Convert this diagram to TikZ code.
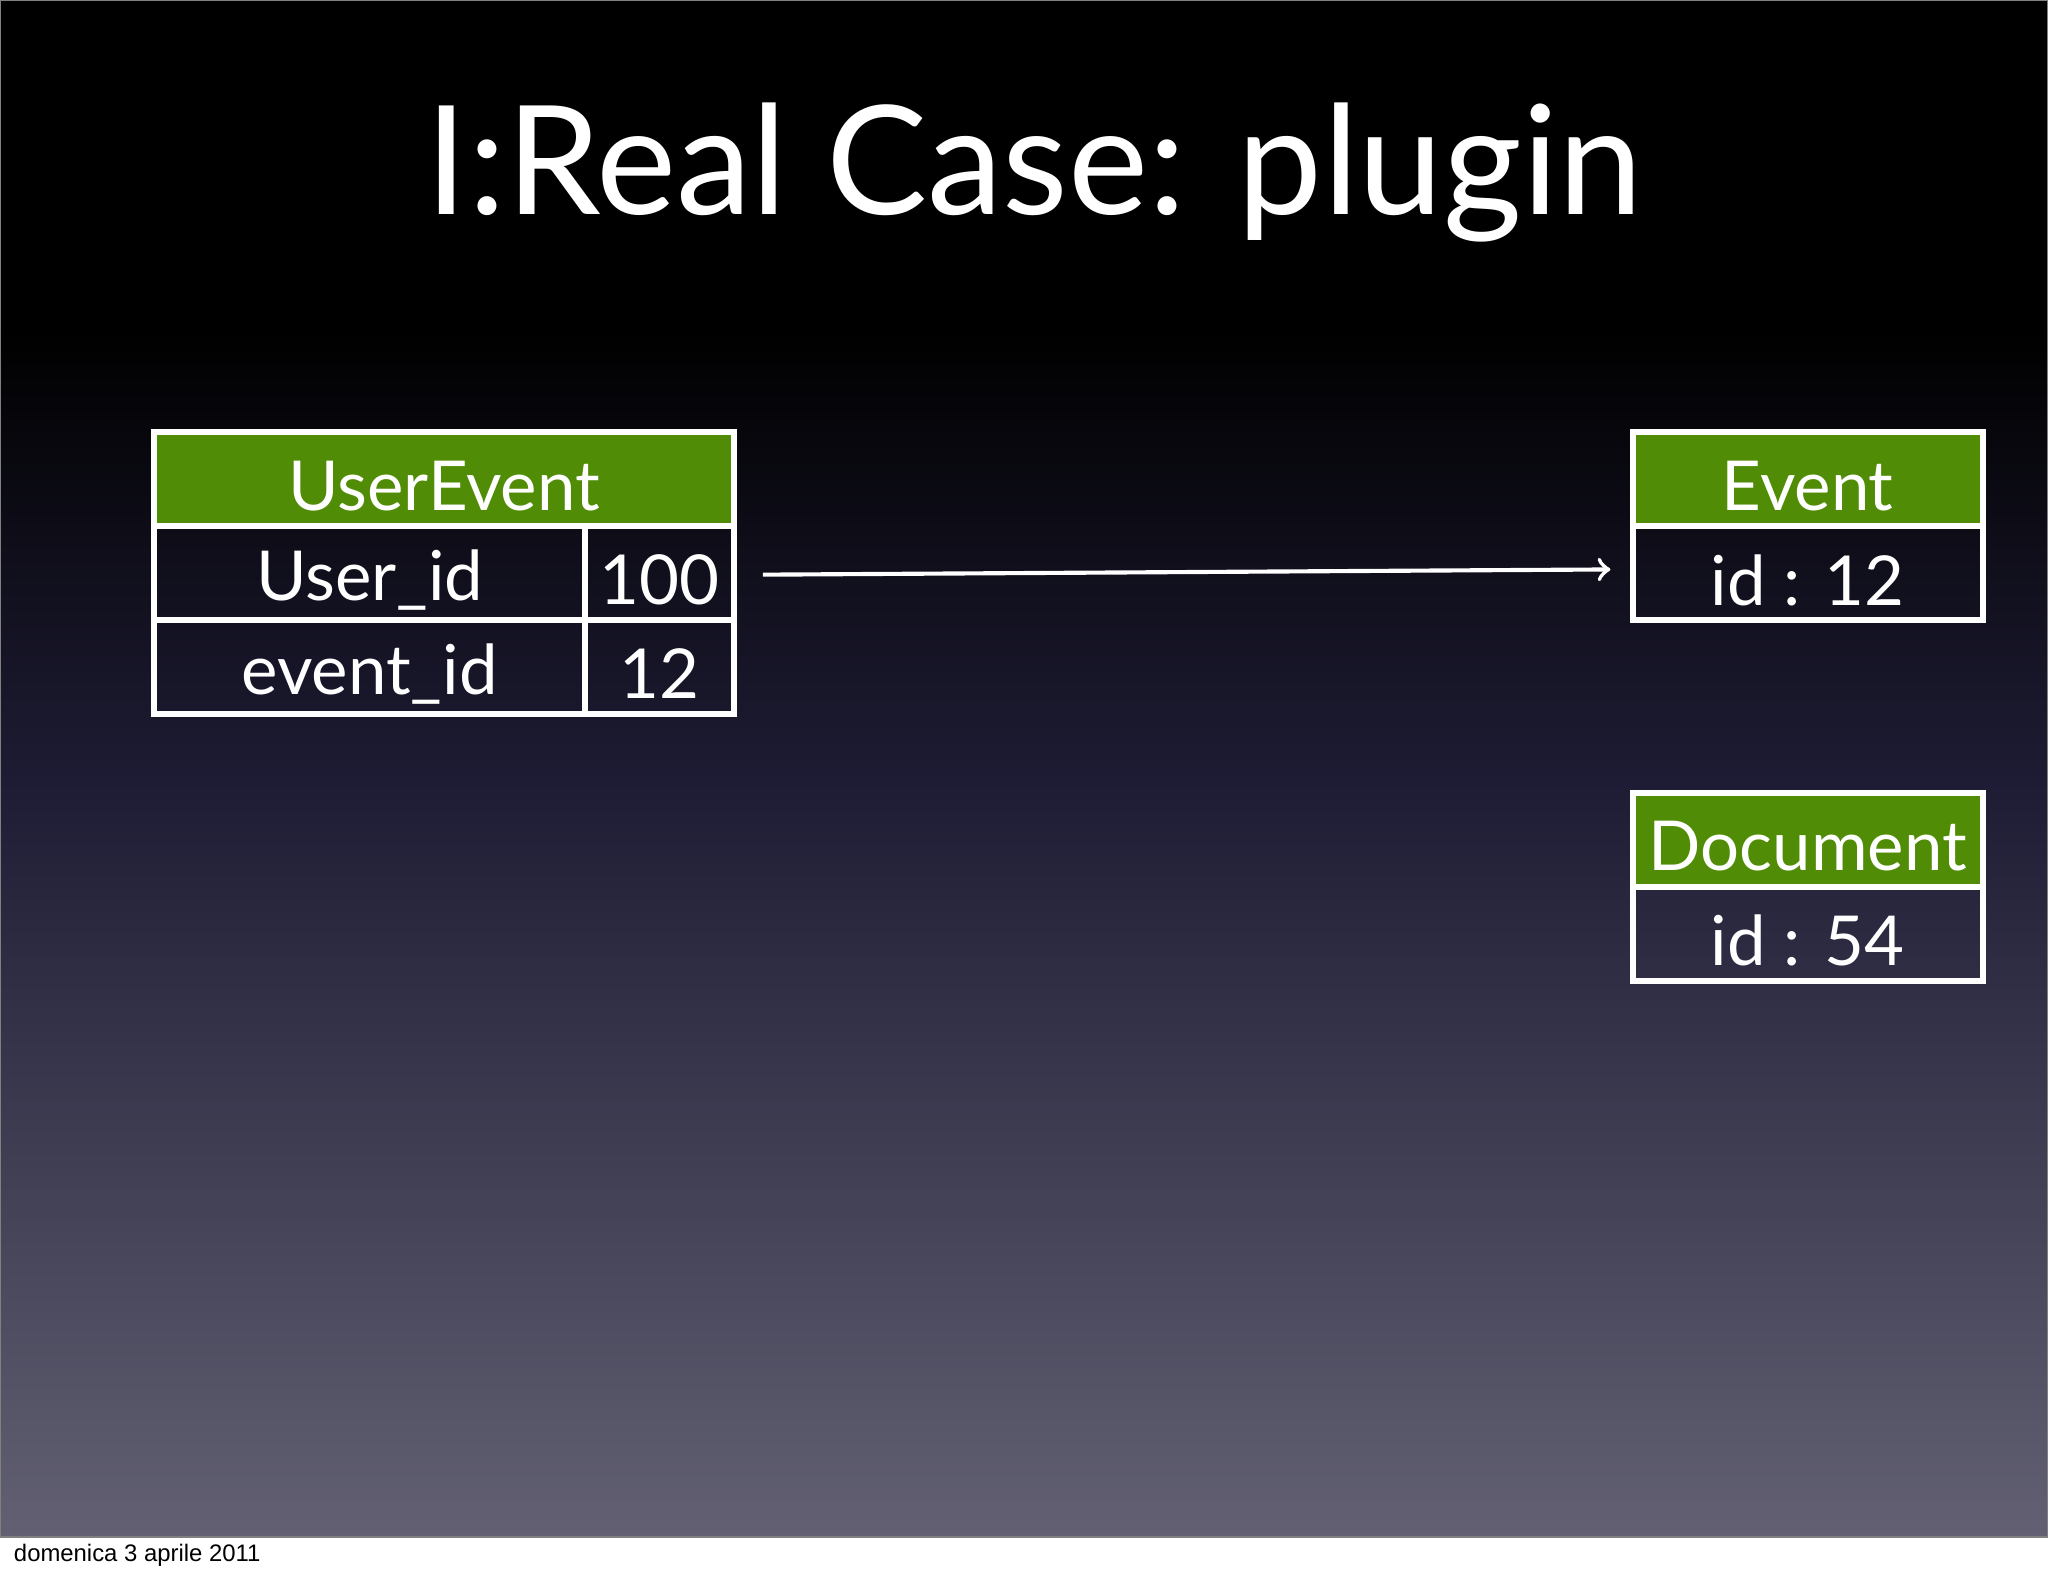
\documentclass[tikz,border=0pt]{standalone}
\usepackage{fontspec}
\setmainfont{Lato}
\newfontfamily\footfont{Liberation Sans}
\definecolor{hdr}{RGB}{80,140,5}
\definecolor{mid}{RGB}{30,28,52}
\definecolor{bot}{RGB}{98,96,114}
\begin{document}
\begin{tikzpicture}[x=0.01cm,y=-0.01cm,
  celltext/.style={text=white,font=\fontsize{15}{15}\selectfont},
  title/.style={text=white,font=\fontsize{33}{33}\selectfont}]
\useasboundingbox (0,0) rectangle (1568,1207);
\fill[white] (0,0) rectangle (1568,1207);
\fill[black] (0,0) rectangle (1568,250);
\shade[top color=black,bottom color=mid] (0,250) rectangle (1568,600);
\shade[top color=mid,bottom color=bot] (0,599) rectangle (1568,1177);
\draw[gray,line width=0.5pt] (0,0) rectangle (1568,1177);
\node[title] (t) at (792,132) {I:Real Case: plugin};
% UserEvent
\fill[hdr] (118,331) rectangle (562,403);
\draw[white,line width=1.3pt] (118,331) rectangle (562,547) (118,403)--(562,403) (118,475)--(562,475) (448,403)--(448,547);
\node[celltext] (ue) at (340,372) {UserEvent};
\node[celltext] (u1) at (283,444) {User\_id};
\node[celltext] (u2) at (505,444) {100};
\node[celltext] (u3) at (283,516) {event\_id};
\node[celltext] (u4) at (505,516) {12};
% Event
\fill[hdr] (1250,331) rectangle (1518,403);
\draw[white,line width=1.3pt] (1250,331) rectangle (1518,475) (1250,403)--(1518,403);
\node[celltext] (ev) at (1384,372) {Event};
\node[celltext] (e1) at (1384,444) {id : 12};
% Document
\fill[hdr] (1250,607) rectangle (1518,679);
\draw[white,line width=1.3pt] (1250,607) rectangle (1518,751) (1250,679)--(1518,679);
\node[celltext] (dc) at (1384,648) {Document};
\node[celltext] (d1) at (1384,720) {id : 54};
\coordinate (a1) at (584,440);
\coordinate (a2) at (1233,436);
\draw[white,line width=0.9pt,->] (a1) -- (a2);
\node[anchor=west,inner sep=0pt,font=\footfont\fontsize{5.2}{6}\selectfont] (f) at (10,1191) {domenica 3 aprile 2011};
\end{tikzpicture}
\end{document}
